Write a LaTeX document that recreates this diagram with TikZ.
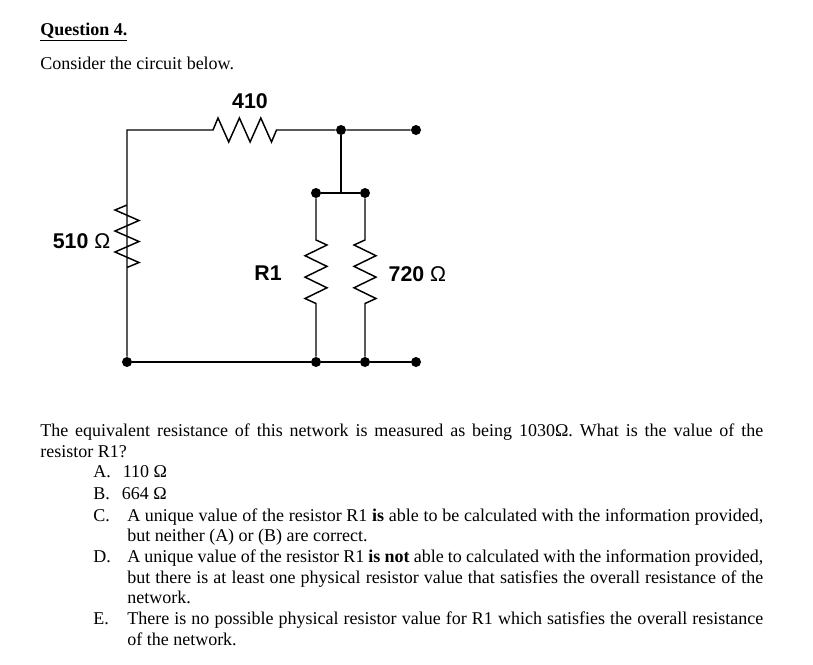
\documentclass[tikz,border=0pt]{standalone}
\usepackage{fontspec}
\setmainfont{Liberation Serif}
\newfontfamily\lsans{Liberation Sans}
\frenchspacing
\begin{document}
\begin{tikzpicture}[x=0.75pt,y=-0.75pt,
  wire/.style={line width=1.1pt},
  dotn/.style={circle,fill=black,inner sep=0pt,minimum size=7.5pt},
  lbl/.style={font=\lsans\fontsize{16}{18}\selectfont},
  txt/.style={anchor=base west,inner sep=0pt,font=\fontsize{13.5}{16}\selectfont}]
\useasboundingbox[fill=white] (0,0) rectangle (813,664);
% nodes
\coordinate (tl) at (127,130);
\node[dotn] (tj) at (341,130) {};
\node[dotn] (tr) at (416,130) {};
\coordinate (mj) at (341,193);
\node[dotn] (ma) at (316,193) {};
\node[dotn] (mb) at (365,193) {};
\node[dotn] (b1) at (127,362) {};
\node[dotn] (b2) at (316,362) {};
\node[dotn] (b3) at (365,362) {};
\node[dotn] (b4) at (416,362) {};
% wires
\draw[wire] (b1) -- (127,205) -- ++(-12,5) -- ++(24,10.5) -- ++(-24,10.5) -- ++(24,10.5) -- ++(-24,10.5) -- ++(24,10.5) -- ++(-12,5) -- (tl) -- (213,130) -- ++(5,-12) -- ++(10.7,24) -- ++(10.7,-24) -- ++(10.7,24) -- ++(10.7,-24) -- ++(10.7,24) -- ++(5,-12) -- (tj) -- (tr);
\draw[wire] (tj) -- (mj);
\draw[wire] (ma) -- (mb);
\draw[wire] (ma) -- (316,240) -- ++(11,5) -- ++(-22,10.7) -- ++(22,10.7) -- ++(-22,10.7) -- ++(22,10.7) -- ++(-22,10.7) -- ++(11,5) -- (b2);
\draw[wire] (mb) -- (365,240) -- ++(-11,5) -- ++(22,10.7) -- ++(-22,10.7) -- ++(22,10.7) -- ++(-22,10.7) -- ++(22,10.7) -- ++(-11,5) -- (b3);
\draw[wire] (b1) -- (b2) -- (b3) -- (b4);
% labels
\node[lbl] (l410) at (250,101) {\bfseries 410};
\node[lbl,anchor=east] (l510) at (115,241) {\bfseries 510 \mdseries Ω};
\node[lbl] (lr1) at (268,273) {\bfseries R1};
\node[lbl,anchor=west] (l720) at (384,274) {\bfseries 720 \mdseries Ω};
% text
\node[txt] (q) at (40,35) {\textbf{\underline{Question 4.}}};
\node[txt] (c) at (40,69) {Consider the circuit below.};
\node[txt] (p1) at (40,436) {\makebox[542.25pt][s]{The equivalent resistance of this network is measured as being 1030Ω. What is the value of the}};
\node[txt] (p2) at (40,457) {resistor R1?};
\node[txt] (a) at (93,477) {A.\hspace{9pt}110 Ω};
\node[txt] (b) at (93,499) {B.\hspace{9pt}664 Ω};
\node[txt] (cc) at (93,521) {C.};
\node[txt] (c1) at (127,521) {\makebox[477pt][s]{A unique value of the resistor R1 \textbf{is} able to be calculated with the information provided,}};
\node[txt] (c2) at (127,541) {but neither (A) or (B) are correct.};
\node[txt] (d) at (93,562) {D.};
\node[txt] (d1) at (127,562) {\makebox[477pt][s]{A unique value of the resistor R1 \textbf{is not} able to calculated with the information provided,}};
\node[txt] (d2) at (127,583) {\makebox[477pt][s]{but there is at least one physical resistor value that satisfies the overall resistance of the}};
\node[txt] (d3) at (127,603) {network.};
\node[txt] (e) at (93,624) {E.};
\node[txt] (e1) at (127,624) {\makebox[477pt][s]{There is no possible physical resistor value for R1 which satisfies the overall resistance}};
\node[txt] (e2) at (127,645) {of the network.};
\end{tikzpicture}
\end{document}
